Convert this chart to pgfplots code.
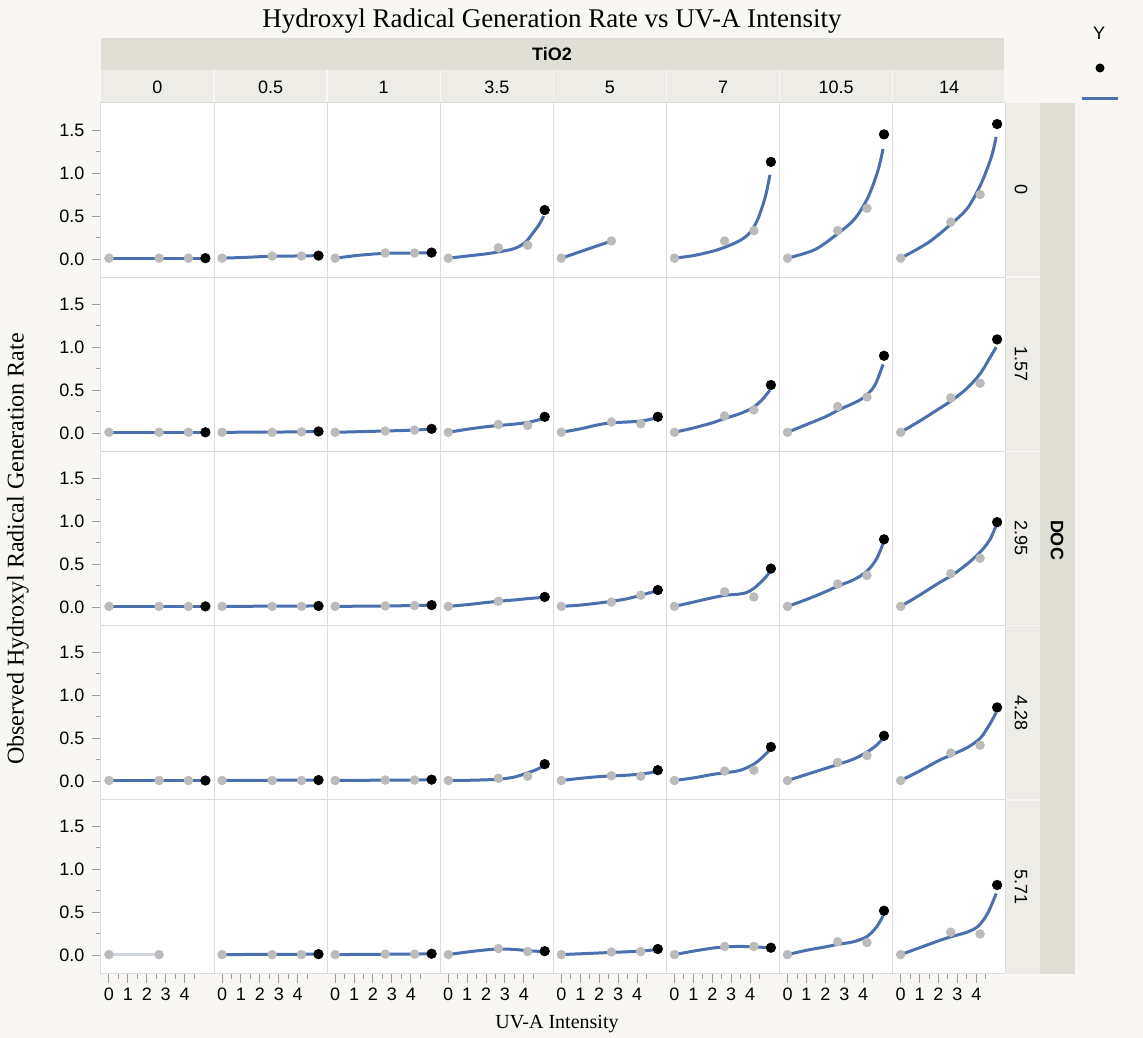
\documentclass[border=0pt]{standalone}
\usepackage{fontspec}
\setmainfont{Liberation Serif}
\setsansfont{Liberation Sans}
\usepackage{pgfplots}
\pgfplotsset{compat=1.18}
\usepgfplotslibrary{groupplots}
\usetikzlibrary{calc}
\pgfdeclarelayer{bg}
\pgfsetlayers{bg,main}
\definecolor{bgc}{HTML}{F8F7F3}
\definecolor{bandD}{HTML}{E0DFD5}
\definecolor{bandL}{HTML}{EDECE7}
\definecolor{ptgray}{HTML}{BBBBBB}
\definecolor{fitblue}{HTML}{4C6FAD}
\definecolor{lightline}{HTML}{D0D6DE}
\definecolor{framegray}{HTML}{DCDCDC}
\definecolor{tickgray}{HTML}{A0A0A0}
\pgfplotsset{
  gp/.style={color=ptgray, only marks, mark=*, mark size=4.4pt, mark options={draw=ptgray, fill=ptgray, line width=0.6pt}},
  bp/.style={color=black, only marks, mark=*, mark size=4.8pt, mark options={draw=black, fill=black, line width=0.6pt}},
  cv/.style={no marks, smooth, line width=3pt, color=fitblue},
  ystyle/.style={ytick={0,0.5,1,1.5}, yticklabels={0.0,0.5,1.0,1.5}, minor ytick={0.25,0.75,1.25}},
  xstyle/.style={xtick={0,1,2,3,4}, xticklabels={0,1,2,3,4}, minor xtick={0.5,1.5,2.5,3.5,4.5}},
}
\newcommand\pan[4]{%
  \nextgroupplot[#1]
  \addplot[gp] coordinates {#2};
  \addplot[cv] coordinates {#4};
  \addplot[bp] coordinates {#3};
}
\begin{document}
\begin{tikzpicture}
\begin{groupplot}[
  group style={group name=group, group size=8 by 5, horizontal sep=0pt, vertical sep=0pt},
  width=113.1pt, height=174.1pt, scale only axis,
  xmin=-0.42, xmax=5.56, ymin=-0.21, ymax=1.815,
  xtick=\empty, ytick=\empty,
  xtick pos=bottom, ytick pos=left,
  axis background/.style={fill=white},
  axis line style={draw=framegray, line width=1pt},
  tick style={draw=tickgray, line width=1pt},
  major tick length=9pt, minor tick length=5pt, tick align=outside,
  /pgf/number format/assume math mode=true,
  ticklabel style={font=\sffamily\fontsize{18}{18}\selectfont},
  xticklabel style={inner sep=1pt, yshift=-4pt},
  yticklabel style={xshift=-4pt},
  clip=false,
]
% ---- DOC 0
\pan{ystyle}{(0,0.01)(2.65,0.01)(4.2,0.01)}{(5.1,0.01)}{(0,0.01)(5.05,0.01)}
\pan{}{(0,0.01)(2.65,0.035)(4.2,0.035)}{(5.1,0.04)}{(0,0.01)(1.3,0.02)(2.65,0.033)(4.2,0.036)(5.05,0.04)}
\pan{}{(0,0.01)(2.65,0.07)(4.2,0.07)}{(5.1,0.075)}{(0,0.01)(1.3,0.045)(2.65,0.066)(4.2,0.07)(5.05,0.073)}
\pan{}{(0,0.01)(2.65,0.13)(4.2,0.16)}{(5.1,0.57)}{(0,0.01)(1,0.035)(2,0.06)(2.7,0.085)(3.3,0.11)(3.7,0.14)(4.1,0.2)(4.4,0.28)(4.8,0.4)(5.05,0.5)}
\nextgroupplot
\addplot[gp] coordinates {(0,0.01)(2.65,0.21)};
\addplot[cv] coordinates {(0,0.01)(2.65,0.21)};
\pan{}{(0,0.01)(2.65,0.21)(4.2,0.33)}{(5.1,1.13)}{(0,0.01)(1,0.04)(2,0.09)(2.7,0.14)(3.5,0.22)(4.0,0.31)(4.4,0.46)(4.8,0.72)(5.05,0.98)}
\pan{}{(0,0.01)(2.65,0.33)(4.2,0.59)}{(5.1,1.45)}{(0,0.01)(1.45,0.11)(2.68,0.3)(3.56,0.47)(4.26,0.72)(4.78,1.03)(5.05,1.28)}
\pan{}{(0,0.01)(2.65,0.43)(4.2,0.75)}{(5.1,1.57)}{(0,0.01)(1.45,0.19)(2.68,0.41)(3.56,0.6)(4.26,0.88)(4.8,1.19)(5.05,1.42)}
% ---- DOC 1.57
\pan{ystyle}{(0,0.01)(2.65,0.01)(4.2,0.01)}{(5.1,0.01)}{(0,0.01)(5.05,0.01)}
\pan{}{(0,0.01)(2.65,0.01)(4.2,0.015)}{(5.1,0.02)}{(0,0.01)(2.65,0.012)(4.2,0.016)(5.05,0.02)}
\pan{}{(0,0.01)(2.65,0.025)(4.2,0.035)}{(5.1,0.05)}{(0,0.01)(2.65,0.025)(4.2,0.036)(5.05,0.048)}
\pan{}{(0,0.01)(2.65,0.1)(4.2,0.09)}{(5.1,0.19)}{(0,0.01)(1,0.045)(2,0.075)(2.7,0.09)(3.5,0.105)(4.2,0.125)(4.7,0.15)(5.05,0.18)}
\pan{}{(0,0.01)(2.65,0.13)(4.2,0.11)}{(5.1,0.19)}{(0,0.01)(1,0.05)(2,0.1)(2.7,0.12)(3.5,0.13)(4.2,0.14)(4.7,0.16)(5.05,0.18)}
\pan{}{(0,0.01)(2.65,0.2)(4.2,0.27)}{(5.1,0.56)}{(0,0.01)(1,0.06)(2,0.12)(2.65,0.17)(3.5,0.23)(4.1,0.29)(4.6,0.38)(5.05,0.5)}
\pan{}{(0,0.01)(2.65,0.31)(4.2,0.42)}{(5.1,0.9)}{(0,0.01)(1,0.1)(2,0.19)(2.7,0.27)(3.5,0.35)(4.0,0.41)(4.6,0.55)(5.05,0.8)}
\pan{}{(0,0.01)(2.65,0.41)(4.2,0.58)}{(5.1,1.09)}{(0,0.01)(1,0.14)(2,0.28)(2.7,0.38)(3.5,0.52)(4.2,0.69)(4.7,0.87)(5.05,1.0)}
% ---- DOC 2.95
\pan{ystyle}{(0,0.01)(2.65,0.01)(4.2,0.01)}{(5.1,0.01)}{(0,0.01)(5.05,0.01)}
\pan{}{(0,0.01)(2.65,0.01)(4.2,0.01)}{(5.1,0.015)}{(0,0.01)(5.05,0.015)}
\pan{}{(0,0.01)(2.65,0.015)(4.2,0.02)}{(5.1,0.025)}{(0,0.01)(2.65,0.015)(4.2,0.02)(5.05,0.025)}
\pan{}{(0,0.01)(2.65,0.07)}{(5.1,0.12)}{(0,0.01)(1,0.03)(2,0.055)(2.7,0.07)(3.5,0.085)(4.2,0.1)(5.05,0.115)}
\pan{}{(0,0.01)(2.65,0.06)(4.2,0.14)}{(5.1,0.2)}{(0,0.01)(1,0.025)(2,0.05)(2.7,0.07)(3.5,0.1)(4.2,0.14)(4.7,0.17)(5.05,0.19)}
\pan{}{(0,0.01)(2.65,0.18)(4.2,0.12)}{(5.1,0.45)}{(0,0.01)(1,0.06)(2,0.11)(2.7,0.14)(3.3,0.15)(3.8,0.17)(4.2,0.22)(4.7,0.32)(5.05,0.41)}
\pan{}{(0,0.01)(2.65,0.27)(4.2,0.37)}{(5.1,0.79)}{(0,0.01)(1,0.09)(2,0.18)(2.7,0.25)(3.5,0.32)(4.2,0.42)(4.7,0.56)(5.05,0.74)}
\pan{}{(0,0.01)(2.65,0.39)(4.2,0.57)}{(5.1,0.99)}{(0,0.01)(1,0.14)(2,0.28)(2.7,0.37)(3.5,0.5)(4.2,0.64)(4.7,0.78)(5.05,0.95)}
% ---- DOC 4.28
\pan{ystyle}{(0,0.01)(2.65,0.01)(4.2,0.01)}{(5.1,0.01)}{(0,0.01)(5.05,0.01)}
\pan{}{(0,0.01)(2.65,0.01)(4.2,0.01)}{(5.1,0.015)}{(0,0.01)(5.05,0.015)}
\pan{}{(0,0.01)(2.65,0.015)(4.2,0.015)}{(5.1,0.02)}{(0,0.01)(2.65,0.014)(4.2,0.016)(5.05,0.02)}
\pan{}{(0,0.01)(2.65,0.035)(4.2,0.06)}{(5.1,0.2)}{(0,0.01)(1,0.012)(2,0.018)(2.7,0.025)(3.5,0.05)(4.2,0.1)(4.7,0.14)(5.05,0.18)}
\pan{}{(0,0.01)(2.65,0.065)(4.2,0.06)}{(5.1,0.13)}{(0,0.01)(1,0.035)(2,0.055)(2.7,0.063)(3.5,0.072)(4.2,0.085)(4.7,0.1)(5.05,0.12)}
\pan{}{(0,0.01)(2.65,0.12)(4.2,0.13)}{(5.1,0.4)}{(0,0.01)(1,0.04)(2,0.08)(2.7,0.1)(3.5,0.13)(4.2,0.2)(4.7,0.29)(5.05,0.37)}
\pan{}{(0,0.01)(2.65,0.22)(4.2,0.3)}{(5.1,0.53)}{(0,0.01)(1,0.08)(2,0.15)(2.7,0.2)(3.5,0.26)(4.2,0.34)(4.7,0.42)(5.05,0.5)}
\pan{}{(0,0.01)(2.65,0.33)(4.2,0.42)}{(5.1,0.86)}{(0,0.01)(1,0.12)(2,0.24)(2.7,0.31)(3.5,0.39)(4.2,0.5)(4.7,0.66)(5.05,0.8)}
% ---- DOC 5.71
\nextgroupplot[ystyle,xstyle]
\addplot[gp] coordinates {(0,0.01)(2.65,0.01)};
\addplot[no marks, line width=3pt, color=lightline] coordinates {(0,0.01)(2.65,0.01)};
\pan{xstyle}{(0,0.01)(2.65,0.01)(4.2,0.01)}{(5.1,0.015)}{(0,0.01)(5.05,0.015)}
\pan{xstyle}{(0,0.01)(2.65,0.015)(4.2,0.015)}{(5.1,0.02)}{(0,0.01)(2.65,0.014)(4.2,0.016)(5.05,0.02)}
\pan{xstyle}{(0,0.01)(2.65,0.08)(4.2,0.045)}{(5.1,0.05)}{(0,0.01)(1,0.04)(2,0.065)(2.7,0.075)(3.5,0.07)(4.2,0.055)(5.05,0.045)}
\pan{xstyle}{(0,0.01)(2.65,0.04)(4.2,0.045)}{(5.1,0.075)}{(0,0.01)(2.65,0.035)(4.2,0.05)(5.05,0.07)}
\pan{xstyle}{(0,0.01)(2.65,0.105)(4.2,0.105)}{(5.1,0.09)}{(0,0.01)(1,0.05)(2,0.085)(2.7,0.1)(3.5,0.105)(4.2,0.1)(5.05,0.09)}
\pan{xstyle}{(0,0.01)(2.65,0.16)(4.2,0.15)}{(5.1,0.52)}{(0,0.01)(1,0.06)(2,0.1)(2.7,0.13)(3.5,0.16)(4.2,0.22)(4.7,0.33)(5.05,0.46)}
\pan{xstyle}{(0,0.01)(2.65,0.27)(4.2,0.25)}{(5.1,0.82)}{(0,0.01)(1,0.09)(2,0.17)(2.7,0.22)(3.5,0.27)(4.1,0.34)(4.6,0.49)(5.05,0.72)}
\end{groupplot}
\path (group c1r1.north west) ++(-101pt,103pt) coordinate (O);
\begin{scope}[shift={(O)}, x=1pt, y=-1pt]
\begin{pgfonlayer}{bg}
\fill[bgc] (0,0) rectangle (1143,1038);
\fill[bandD] (101,38) rectangle (1004,70);
\fill[bandL] (101,70) rectangle (1004,103);
\fill[bandL] (1004,103) rectangle (1040,974);
\fill[bandD] (1040,103) rectangle (1075,974);
\foreach \i in {1,...,7} \draw[bgc, line width=1.5pt] ({101+113.1*\i},70) -- ({101+113.1*\i},103);
\foreach \j in {1,...,4} \draw[bgc, line width=1.5pt] (1004,{103+174.2*\j}) -- (1040,{103+174.2*\j});
\end{pgfonlayer}
\node[font=\sffamily\bfseries\fontsize{18}{18}\selectfont] at (552,54) {TiO2};
\foreach \lab [count=\i from 0] in {0,0.5,1,3.5,5,7,10.5,14}
  \node[font=\sffamily\fontsize{18}{18}\selectfont] at ({101+113.1*\i+56.5},87) {\lab};
\foreach \lab [count=\j from 0] in {0,1.57,2.95,4.28,5.71}
  \node[font=\sffamily\fontsize{18}{18}\selectfont, rotate=-90] at (1021,{103+174.2*\j+87}) {\lab};
\node[font=\sffamily\bfseries\fontsize{18}{18}\selectfont, rotate=-90] at (1057,540) {DOC};
\node[font=\fontsize{27}{27}\selectfont] at (552,21) {Hydroxyl Radical Generation Rate vs UV-A Intensity};
\node[font=\fontsize{24}{24}\selectfont, rotate=90] at (18,549) {Observed Hydroxyl Radical Generation Rate};
\node[font=\fontsize{20}{20}\selectfont] at (557,1024) {UV-A Intensity};
\node[font=\sffamily\fontsize{18}{18}\selectfont] at (1099,33) {Y};
\fill[black] (1100,68) circle (4.5);
\draw[fitblue, line width=3pt] (1082,99) -- (1118,99);
\pgfresetboundingbox
\path[use as bounding box] (0,0) rectangle (1143,1038);
\end{scope}
\end{tikzpicture}
\end{document}
